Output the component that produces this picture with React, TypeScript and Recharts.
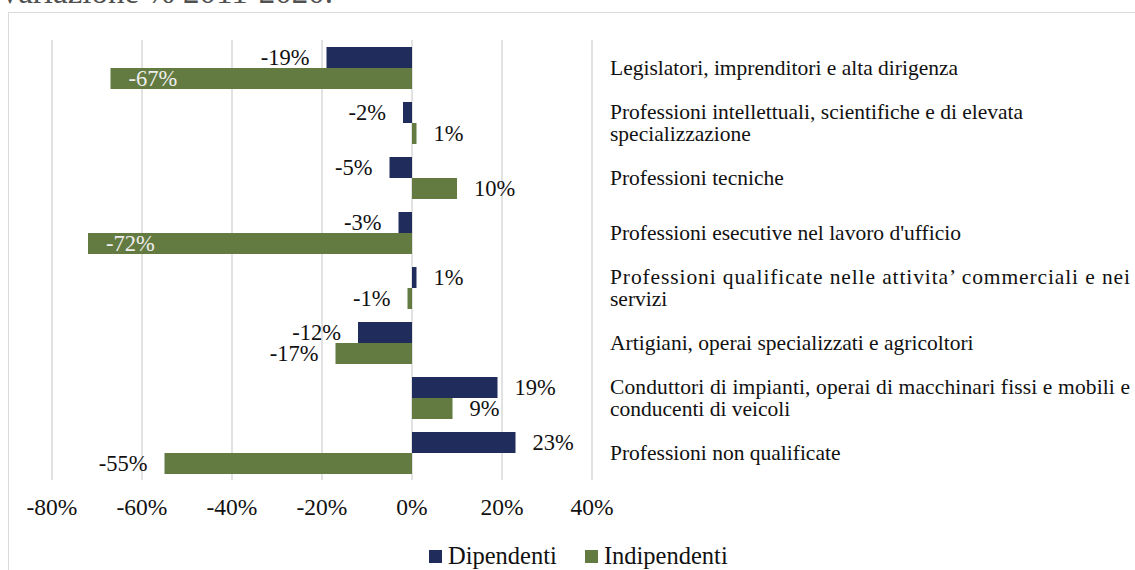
import React from 'react';
import { BarChart, Bar, XAxis, YAxis, CartesianGrid, LabelList } from 'recharts';

const categories = [
  'Legislatori, imprenditori e alta dirigenza',
  'Professioni intellettuali, scientifiche e di elevata\nspecializzazione',
  'Professioni tecniche',
  "Professioni esecutive nel lavoro d'ufficio",
  'Professioni qualificate nelle attivita’ commerciali e nei\nservizi',
  'Artigiani, operai specializzati e agricoltori',
  'Conduttori di impianti, operai di macchinari fissi e mobili e\nconducenti di veicoli',
  'Professioni non qualificate',
];
const dipendenti = [-19, -2, -5, -3, 1, -12, 19, 23];
const indipendenti = [-67, 1, 10, -72, -1, -17, 9, -55];
const xTicks = [-80, -60, -40, -20, 0, 20, 40];
const seriesNames = ['Dipendenti', 'Indipendenti'];
const seriesColors = ['#1f2c5c', '#637a40'];
const justifiedLines = [
  'Professioni qualificate nelle attivita’ commerciali e nei',
  'Conduttori di impianti, operai di macchinari fissi e mobili e',
];

const data = categories.map((name, i) => ({
  name,
  dip: dipendenti[i],
  ind: indipendenti[i],
}));

const FONT = '"Liberation Serif", "Times New Roman", serif';
const W = 1135;
const H = 570;
const MARGIN = { top: 40, right: 43, left: 52, bottom: 60 };

const CategoryTick = (props: any) => {
  const { x, y, payload } = props;
  const lines = String(payload.value).split('\n');
  const lh = 22;
  const start = y - ((lines.length - 1) * lh) / 2 + 7;
  return (
    <text x={x} y={start} fontSize={21.5} fontFamily={FONT} fill="#111" textAnchor="start">
      {lines.map((l, i) => (
        <tspan
          key={i}
          x={x}
          y={start + i * lh}
          {...(justifiedLines.includes(l) ? { textLength: 520, lengthAdjust: 'spacing' } : {})}
        >
          {l}
        </tspan>
      ))}
    </text>
  );
};

const XTick = (props: any) => {
  const { x, y, payload } = props;
  return (
    <text x={x} y={y + 15} fontSize={23.5} fontFamily={FONT} fill="#111" textAnchor="middle">
      {`${payload.value}%`}
    </text>
  );
};

const BarValueLabel = (props: any) => {
  const { x, y, width, height, value } = props;
  const left = Math.min(x, x + width);
  const right = Math.max(x, x + width);
  const cy = y + height / 2 + 7.5;
  const txt = `${value}%`;
  const estW = txt.length * 13;
  const gap = 17;
  const fs = 22.5;
  if (value < 0) {
    const outside = left - gap;
    if (outside - estW < MARGIN.left) {
      return (
        <text x={left + 18} y={cy} fontSize={fs} fontFamily={FONT} fill="#eeeeee" textAnchor="start">
          {txt}
        </text>
      );
    }
    return (
      <text x={outside} y={cy} fontSize={fs} fontFamily={FONT} fill="#111" textAnchor="end">
        {txt}
      </text>
    );
  }
  return (
    <text x={right + gap} y={cy} fontSize={fs} fontFamily={FONT} fill="#111" textAnchor="start">
      {txt}
    </text>
  );
};

export default function App() {
  return (
    <div style={{ position: 'absolute', left: 0, top: 0, width: W, height: H, overflow: 'hidden', background: '#fff' }}>
      <div
        style={{
          position: 'absolute',
          left: 8,
          top: 12,
          width: 1300,
          height: 700,
          borderLeft: '1.5px solid #d9d9d9',
          borderTop: '1.5px solid #d9d9d9',
        }}
      />
      <div
        style={{
          position: 'absolute',
          left: -2,
          top: -24,
          fontFamily: FONT,
          fontSize: 33,
          lineHeight: '33px',
          color: '#505050',
          whiteSpace: 'nowrap',
        }}
      >
        Variazione % 2011-2020.
      </div>
      <div style={{ position: 'absolute', left: 0, top: 0 }}>
        <BarChart
          width={W}
          height={H}
          data={data}
          layout="vertical"
          margin={MARGIN}
          barSize={21}
          barGap={0}
        >
          <CartesianGrid horizontal={false} vertical={true} stroke="#d9d9d9" strokeWidth={1.5} />
          <XAxis
            type="number"
            domain={[-80, 40]}
            ticks={xTicks}
            axisLine={false}
            tickLine={false}
            tickSize={0}
            tickMargin={20}
            height={30}
            tick={<XTick />}
            interval={0}
          />
          <YAxis
            type="category"
            dataKey="name"
            orientation="right"
            width={500}
            axisLine={false}
            tickLine={false}
            tickSize={0}
            tickMargin={18}
            interval={0}
            tick={<CategoryTick />}
          />
          <Bar dataKey="dip" name={seriesNames[0]} fill={seriesColors[0]} isAnimationActive={false}>
            <LabelList dataKey="dip" content={<BarValueLabel />} />
          </Bar>
          <Bar dataKey="ind" name={seriesNames[1]} fill={seriesColors[1]} isAnimationActive={false}>
            <LabelList dataKey="ind" content={<BarValueLabel />} />
          </Bar>
        </BarChart>
      </div>
      <div
        style={{
          position: 'absolute',
          left: 429,
          top: 543,
          display: 'flex',
          alignItems: 'center',
          fontFamily: FONT,
          fontSize: 24.5,
          lineHeight: '26px',
          color: '#111',
          whiteSpace: 'nowrap',
        }}
      >
        {seriesNames.map((n, i) => (
          <div key={n} style={{ display: 'flex', alignItems: 'center', marginRight: i === 0 ? 28 : 0 }}>
            <span style={{ display: 'inline-block', width: 13, height: 13, background: seriesColors[i], marginRight: 6 }} />
            <span>{n}</span>
          </div>
        ))}
      </div>
    </div>
  );
}
